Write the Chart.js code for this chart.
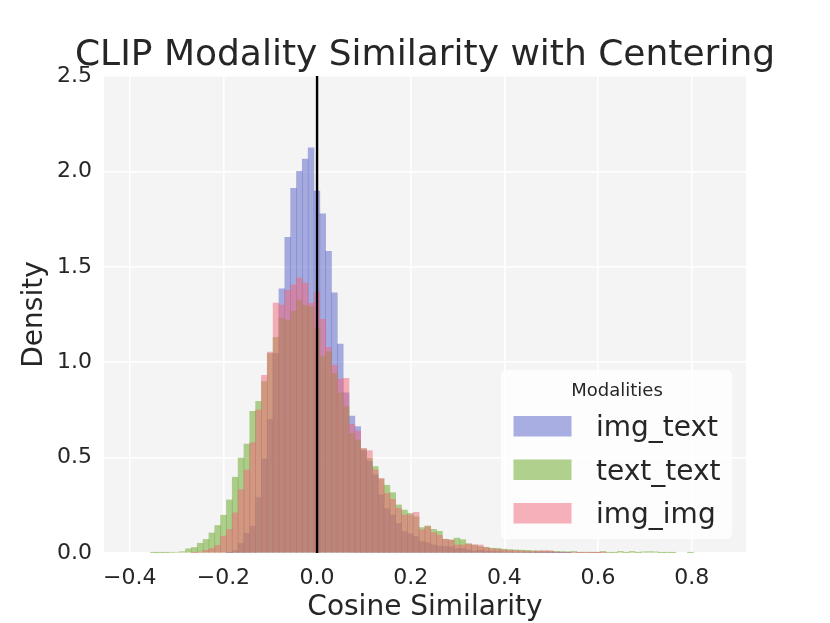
<!DOCTYPE html>
<html>
<head>
<meta charset="utf-8">
<script src="https://cdn.jsdelivr.net/npm/chart.js@4.4.0/dist/chart.umd.min.js"></script>
<style>
  html, body { margin: 0; padding: 0; background: #fff; }
</style>
</head>
<body>
<canvas id="simChart" width="830" height="623"></canvas>
<script>
// histogram bins (shared by all three series)
const binStart = -0.393;
const binWidth = 0.012465;

const imgText = [
  0, 0, 0, 0, 0, 0, 0, 0, 0, 0,
  0, 0, 0, 0, 0, 0, 0.002, 0.012, 0.050, 0.103,
  0.140, 0.290, 0.493, 0.700, 1.045, 1.384, 1.655, 1.911, 2.000, 2.065,
  2.123, 1.897, 1.778, 1.581, 1.364, 1.095, 0.840, 0.718, 0.662, 0.535,
  0.480, 0.409, 0.304, 0.232, 0.199, 0.155, 0.112, 0.100, 0.086, 0.059,
  0.054, 0.042, 0.037, 0.033, 0.033, 0.023, 0.023, 0.016, 0.010, 0.014,
  0.010, 0.008, 0.007, 0.006, 0.005, 0.004, 0.004, 0.003, 0.003, 0.002,
  0.002, 0.001, 0.001, 0.001, 0.001, 0, 0, 0, 0, 0,
  0, 0, 0, 0, 0, 0, 0, 0, 0, 0,
  0, 0, 0, 0, 0, 0, 0, 0, 0, 0
];
const textText = [
  0, 0, 0, 0.001, 0.002, 0.002, 0.003, 0.004, 0.007, 0.022,
  0.029, 0.051, 0.071, 0.105, 0.144, 0.198, 0.278, 0.397, 0.498, 0.571,
  0.742, 0.795, 0.898, 1.045, 1.130, 1.230, 1.218, 1.268, 1.326, 1.298,
  1.290, 1.177, 1.032, 1.055, 0.942, 0.840, 0.767, 0.627, 0.592, 0.545,
  0.496, 0.453, 0.388, 0.355, 0.316, 0.252, 0.225, 0.208, 0.190, 0.133,
  0.142, 0.124, 0.114, 0.072, 0.068, 0.078, 0.070, 0.048, 0.042, 0.033,
  0.030, 0.025, 0.024, 0.020, 0.018, 0.016, 0.015, 0.014, 0.012, 0.011,
  0.010, 0.009, 0.008, 0.007, 0.006, 0.008, 0.002, 0.003, 0.002, 0.002,
  0.008, 0.002, 0.001, 0.008, 0.001, 0.008, 0.001, 0.006, 0.007, 0.006,
  0.001, 0.002, 0.001, 0, 0, 0.001, 0, 0, 0, 0
];
const imgImg = [
  0, 0, 0, 0, 0, 0, 0, 0, 0, 0,
  0.001, 0.005, 0.014, 0.023, 0.040, 0.088, 0.124, 0.210, 0.332, 0.435,
  0.578, 0.749, 0.931, 1.053, 1.310, 1.299, 1.377, 1.406, 1.441, 1.415,
  1.309, 1.368, 1.225, 1.078, 0.984, 0.912, 0.915, 0.676, 0.639, 0.548,
  0.536, 0.435, 0.390, 0.313, 0.281, 0.234, 0.199, 0.199, 0.213, 0.121,
  0.138, 0.107, 0.093, 0.072, 0.068, 0.042, 0.042, 0.047, 0.042, 0.042,
  0.028, 0.022, 0.020, 0.016, 0.014, 0.012, 0.010, 0.009, 0.008, 0.010,
  0.012, 0.012, 0.005, 0.004, 0.003, 0.003, 0.002, 0.002, 0.001, 0.001,
  0.001, 0, 0, 0, 0, 0, 0, 0, 0, 0,
  0, 0, 0, 0, 0, 0, 0, 0, 0, 0
];

const modalities = ["img_text", "text_text", "img_img"];
const xTicks = [-0.4, -0.2, 0.0, 0.2, 0.4, 0.6, 0.8];
const yTicks = [0, 0.5, 1.0, 1.5, 2.0, 2.5];

const FONT = '"DejaVu Sans", "Liberation Sans", sans-serif';
const TEXT = '#262626';

// empty bins are left out so nothing is drawn there
const toPoints = vals => vals.map((v, i) => ({ x: binStart + (i + 0.5) * binWidth, y: v > 0 ? v : null }));
const fmt = v => v.toFixed(1).replace('-', '\u2212');

// grey plot background
const plotBg = {
  id: 'plotBg',
  beforeDraw(chart) {
    const { ctx, chartArea: a } = chart;
    ctx.save();
    ctx.fillStyle = '#f4f4f4';
    ctx.fillRect(a.left, a.top, a.right - a.left, a.bottom - a.top);
    ctx.restore();
  }
};

// vertical line at x = 0
const zeroLine = {
  id: 'zeroLine',
  afterDatasetsDraw(chart) {
    const { ctx, chartArea: a, scales: { x } } = chart;
    const px = x.getPixelForValue(0);
    ctx.save();
    ctx.strokeStyle = '#000';
    ctx.lineWidth = 2.4;
    ctx.beginPath();
    ctx.moveTo(px, a.top);
    ctx.lineTo(px, a.bottom);
    ctx.stroke();
    ctx.restore();
  }
};

// title centred over the axes + boxed legend in the lower right
const decorations = {
  id: 'decorations',
  afterDraw(chart) {
    const { ctx, chartArea: a } = chart;
    ctx.save();
    ctx.fillStyle = TEXT;
    ctx.font = '36px ' + FONT;
    ctx.textAlign = 'center';
    ctx.textBaseline = 'alphabetic';
    ctx.fillText('CLIP Modality Similarity with Centering', (a.left + a.right) / 2, 65);

    const w = 231, h = 169;
    const left = a.right - 14 - w, top = a.bottom - 14 - h;
    ctx.fillStyle = 'rgba(255,255,255,0.8)';
    ctx.beginPath();
    ctx.roundRect(left, top, w, h, 5);
    ctx.fill();

    ctx.fillStyle = TEXT;
    ctx.font = '18px ' + FONT;
    ctx.fillText('Modalities', left + 116, top + 25.5);

    ctx.textAlign = 'left';
    ctx.font = '28px ' + FONT;
    chart.data.datasets.forEach((ds, i) => {
      const cy = top + 56 + i * 43.5;
      ctx.fillStyle = ds.backgroundColor;
      ctx.fillRect(left + 12.5, cy - 10, 58, 20.5);
      ctx.fillStyle = TEXT;
      ctx.fillText(ds.label, left + 95, cy + 10);
    });
    ctx.restore();
  }
};

const ctx = document.getElementById('simChart').getContext('2d');
const simChart = new Chart(ctx, {
  type: 'bar',
  data: {
    datasets: [
      { label: modalities[0], data: toPoints(imgText), backgroundColor: 'rgba(86,96,200,0.5)', order: 3 },
      { label: modalities[1], data: toPoints(textText), backgroundColor: 'rgba(100,164,32,0.5)', order: 2 },
      { label: modalities[2], data: toPoints(imgImg), backgroundColor: 'rgba(240,100,120,0.5)', order: 1 }
    ]
  },
  options: {
    responsive: false,
    animation: false,
    devicePixelRatio: 1,
    layout: { padding: { top: 76, right: 84, bottom: 0, left: 0 } },
    datasets: {
      bar: { grouped: false, barPercentage: 1, categoryPercentage: 1, borderWidth: 0 }
    },
    plugins: {
      legend: { display: false },
      tooltip: { enabled: false }
    },
    scales: {
      x: {
        type: 'linear',
        min: -0.455,
        max: 0.916,
        offset: false,
        afterFit: s => { s.height = 70; },
        afterBuildTicks: s => { s.ticks = xTicks.map(v => ({ value: v })); },
        grid: { color: '#ffffff', lineWidth: 1.5, drawTicks: false, offset: false },
        border: { display: false },
        ticks: { padding: 12, color: TEXT, font: { family: FONT, size: 22 }, callback: v => fmt(v), maxRotation: 0 },
        title: { display: true, text: 'Cosine Similarity', color: TEXT, font: { family: FONT, size: 28, lineHeight: 1.0 }, padding: { top: 0, bottom: 1 } }
      },
      y: {
        min: 0,
        max: 2.5,
        afterFit: s => { s.width = 104; },
        afterBuildTicks: s => { s.ticks = yTicks.map(v => ({ value: v })); },
        grid: { color: '#ffffff', lineWidth: 1.5, drawTicks: false },
        border: { display: false },
        ticks: { padding: 12, color: TEXT, font: { family: FONT, size: 22 }, callback: v => fmt(v) },
        title: { display: true, text: 'Density', color: TEXT, font: { family: FONT, size: 28 }, padding: { top: 17.5, bottom: 0 } }
      }
    }
  },
  plugins: [plotBg, zeroLine, decorations]
});
</script>
</body>
</html>
